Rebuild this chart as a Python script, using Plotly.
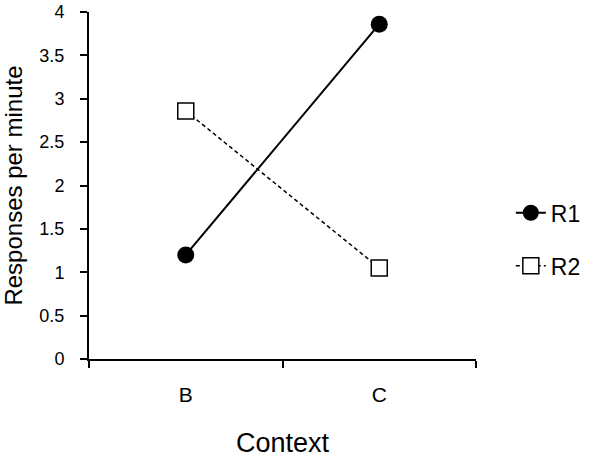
import plotly.graph_objects as go

contexts = ["B", "C"]
r1_values = [1.20, 3.86]
r2_values = [2.86, 1.05]
y_ticks = [0, 0.5, 1, 1.5, 2, 2.5, 3, 3.5, 4]
y_tick_labels = ["0", "0.5", "1", "1.5", "2", "2.5", "3", "3.5", "4"]

fig = go.Figure()
fig.add_trace(go.Scatter(
    x=contexts, y=r1_values, name="R1", mode="lines+markers", legendgroup="r1",
    line=dict(color="black", width=2),
    marker=dict(symbol="circle", size=17, color="black"),
))
fig.add_trace(go.Scatter(
    x=contexts, y=r2_values, name="R2", mode="lines+markers", legendgroup="r2",
    line=dict(color="black", width=1.5, dash="4px,3px"),
    marker=dict(symbol="square", size=16, color="white",
                line=dict(color="black", width=1.5)),
))

fig.update_layout(
    width=602, height=460,
    margin=dict(l=89, r=126, t=12, b=101),
    paper_bgcolor="white", plot_bgcolor="white",
    font=dict(family="Liberation Sans, Arial, sans-serif", color="black", size=18),
    legend=dict(x=1.09, y=0.345, xanchor="left", yanchor="middle",
                font=dict(size=23), traceorder="grouped", tracegroupgap=20,
                itemsizing="trace"),
    xaxis=dict(
        type="category", range=[-0.5, 1.5], tickson="boundaries",
        showline=True, linecolor="black", linewidth=2,
        ticks="outside", ticklen=7, tickwidth=1.5, tickcolor="black",
        showgrid=False, zeroline=False, automargin=False,
        tickfont=dict(size=21), ticklabelstandoff=16,
        title=dict(text="Context", font=dict(size=27), standoff=28),
    ),
    yaxis=dict(
        range=[0, 4], tickvals=y_ticks, ticktext=y_tick_labels,
        showline=True, linecolor="black", linewidth=2,
        ticks="outside", ticklen=7, tickwidth=1.5, tickcolor="black",
        showgrid=False, zeroline=False, automargin=False,
        tickfont=dict(size=18), ticklabelstandoff=12,
        title=dict(text="Responses per minute", font=dict(size=24), standoff=10),
    ),
)

fig.write_html("out.html", config={"displayModeBar": False},
               post_script="document.body.style.margin='0';")
